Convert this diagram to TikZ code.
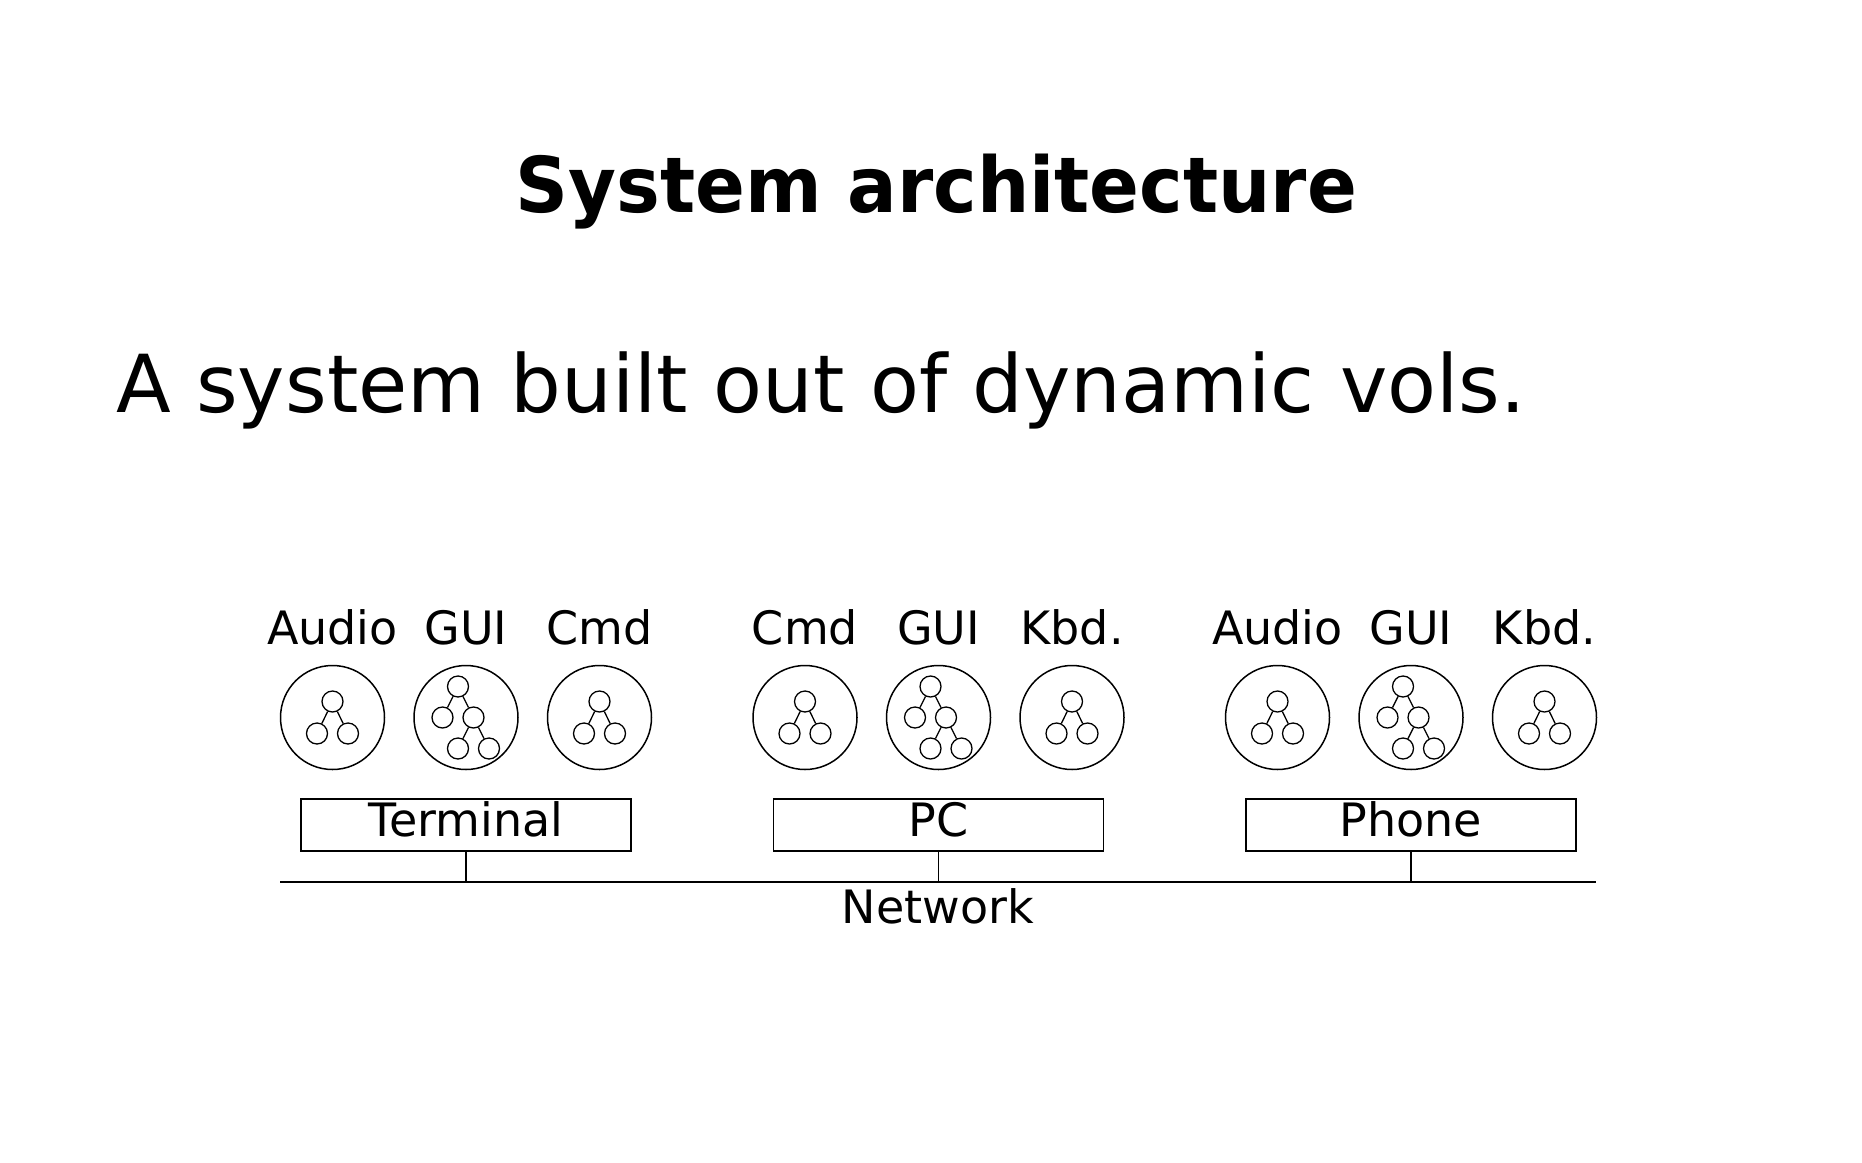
\documentclass[tikz,border=0pt]{standalone}
\usepackage{fontspec}
\setmainfont{DejaVu Sans}
\newfontfamily\titlefont[FakeStretch=0.955]{DejaVu Sans}
\usetikzlibrary{calc,positioning}
\tikzset{
	vol/.style={
		draw, circle, minimum size=104pt,
		inner sep=0pt, line width=1.5pt
	},
	leaf/.style={
		draw, circle, minimum size=21pt,
		inner sep=0pt, line width=1.3pt
	},
	host/.style={
		draw, rectangle, minimum width=330pt, minimum height=52pt,
		inner sep=0pt, line width=1.3pt,
		text height=34pt, text depth=12pt,
		font=\fontsize{46pt}{50pt}\selectfont
	},
}
% small tree: root and two children
\newcommand{\smalltree}[1]{%
	\node[leaf] (#1r) at ($(#1)+(0,-16)$) {};
	\node[leaf] (#1a) at ($(#1)+(-15.5,16)$) {};
	\node[leaf] (#1b) at ($(#1)+(15.5,16)$) {};
	\draw[line width=1.3pt] (#1r) -- (#1a) (#1r) -- (#1b);
}
% bigger tree for the GUI vols
\newcommand{\guitree}[1]{%
	\node[leaf] (#1r) at ($(#1)+(-8,-31)$) {};
	\node[leaf] (#1a) at ($(#1)+(-23.5,0)$) {};
	\node[leaf] (#1b) at ($(#1)+(7.5,0)$) {};
	\node[leaf] (#1c) at ($(#1)+(-8,31)$) {};
	\node[leaf] (#1d) at ($(#1)+(23,31)$) {};
	\draw[line width=1.3pt] (#1r) -- (#1a) (#1r) -- (#1b)
		(#1b) -- (#1c) (#1b) -- (#1d);
}

\begin{document}
\begin{tikzpicture}[x=1pt, y=-1pt,
		lbl/.style={anchor=base, inner sep=0pt,
			font=\fontsize{46pt}{50pt}\selectfont}]
	\useasboundingbox (0,0) rectangle (1862,1162);
	\fill[white] (0,0) rectangle (1862,1162);

	\node[anchor=base, inner sep=0pt, font=\titlefont\bfseries\fontsize{77pt}{80pt}\selectfont]
		(title) at (936.5,212) {System architecture};
	\node[anchor=base west, inner sep=0pt, font=\fontsize{80pt}{84pt}\selectfont]
		(sub) at (116,412) {A system built out of dynamic vols.};

	% terminal
	\node[vol] (t1) at (332.5,717.5) {};
	\node[vol] (t2) at (466,717.5) {};
	\node[vol] (t3) at (599.5,717.5) {};
	\smalltree{t1} \guitree{t2} \smalltree{t3}
	\node[lbl] (t1l) at (332.5,644) {Audio};
	\node[lbl] (t2l) at (466,644) {GUI};
	\node[lbl] (t3l) at (599.5,644) {Cmd};
	\node[host] (term) at (466,825) {Terminal};

	% pc
	\node[vol] (p1) at (805,717.5) {};
	\node[vol] (p2) at (938.5,717.5) {};
	\node[vol] (p3) at (1072,717.5) {};
	\smalltree{p1} \guitree{p2} \smalltree{p3}
	\node[lbl] (p1l) at (805,644) {Cmd};
	\node[lbl] (p2l) at (938.5,644) {GUI};
	\node[lbl] (p3l) at (1072,644) {Kbd.};
	\node[host] (pc) at (938.5,825) {PC};

	% phone
	\node[vol] (f1) at (1277.5,717.5) {};
	\node[vol] (f2) at (1411,717.5) {};
	\node[vol] (f3) at (1544.5,717.5) {};
	\smalltree{f1} \guitree{f2} \smalltree{f3}
	\node[lbl] (f1l) at (1277.5,644) {Audio};
	\node[lbl] (f2l) at (1411,644) {GUI};
	\node[lbl] (f3l) at (1544.5,644) {Kbd.};
	\node[host] (phone) at (1411,825) {Phone};

	% network
	\coordinate (netw) at (280,882);
	\coordinate (nete) at (1596,882);
	\draw[line width=1.3pt] (netw) -- (nete);
	\draw[line width=1.3pt] (term.south) -- (term.south |- netw);
	\draw[line width=1.3pt] (pc.south) -- (pc.south |- netw);
	\draw[line width=1.3pt] (phone.south) -- (phone.south |- netw);
	\node[lbl] (net) at (938,923) {Network};
\end{tikzpicture}
\end{document}
